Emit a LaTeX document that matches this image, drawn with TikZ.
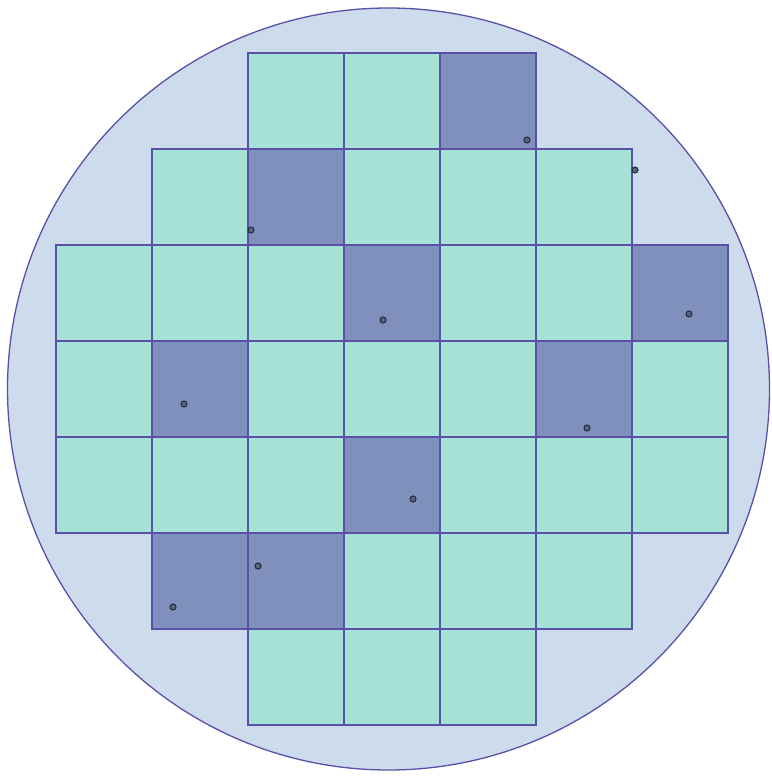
\documentclass[tikz,border=0pt]{standalone}
\definecolor{wafer}{HTML}{CCDCEC}
\definecolor{lightcell}{HTML}{A6E3D6}
\definecolor{darkcell}{HTML}{7F90BC}
\definecolor{edge}{HTML}{5A50A8}
\definecolor{dotc}{HTML}{26303A}
\tikzset{
  cellL/.style={fill=lightcell,draw=edge,line width=1.3pt},
  cellD/.style={fill=darkcell,draw=edge,line width=1.3pt},
  defect/.style={circle,draw=dotc,fill=darkcell!70!black,line width=1.1pt,inner sep=0pt,minimum size=6pt},
}
\begin{document}
\begin{tikzpicture}[x=1pt,y=-1pt]
\useasboundingbox (0,0) rectangle (771,776);
\node[circle,fill=wafer,draw=edge,line width=1.3pt,minimum size=762pt,inner sep=0pt] (wafer) at (388.5,389) {};
% cells: row, columns, dark flags
\foreach \r/\c/\t in {
 0/2/L,0/3/L,0/4/D,
 1/1/L,1/2/D,1/3/L,1/4/L,1/5/L,
 2/0/L,2/1/L,2/2/L,2/3/D,2/4/L,2/5/L,2/6/D,
 3/0/L,3/1/D,3/2/L,3/3/L,3/4/L,3/5/D,3/6/L,
 4/0/L,4/1/L,4/2/L,4/3/D,4/4/L,4/5/L,4/6/L,
 5/1/D,5/2/D,5/3/L,5/4/L,5/5/L,
 6/2/L,6/3/L,6/4/L}{
  \pgfmathsetmacro{\xa}{56+96*\c}
  \pgfmathsetmacro{\ya}{53+96*\r}
  \draw[cell\t] (\xa,\ya) rectangle ++(96,96);
}
\foreach \n/\x/\y in {d1/527/140,d2/635/170,d3/251/230,d4/383/320,d5/689/314,d6/184/404,d7/587/428,d8/413/499,d9/258/566,d10/173/607}{
  \node[defect] (\n) at (\x,\y) {};
}
\end{tikzpicture}
\end{document}
